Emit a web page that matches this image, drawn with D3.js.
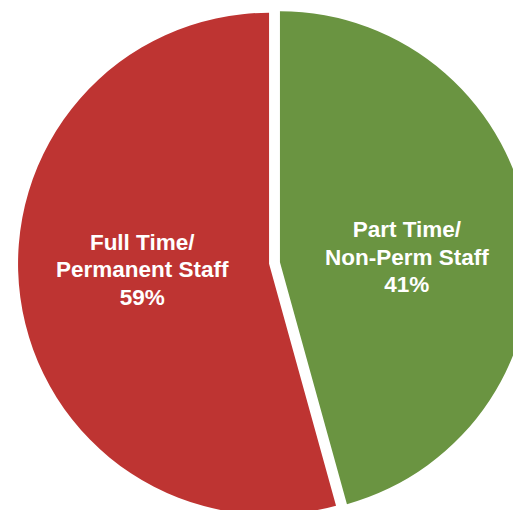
<!DOCTYPE html>
<html>
<head>
<meta charset="utf-8">
<script src="https://cdn.jsdelivr.net/npm/d3@7"></script>
<style>
  body { margin: 0; background: #fff; }
  svg { display: block; }
</style>
</head>
<body>
<div id="chart"></div>
<script>
// slices, clockwise from 12 o'clock
const categories = ["Part Time/Non-Perm Staff", "Full Time/Permanent Staff"]
// share of the circle each slice takes in the picture
const sliceShares = [45.7, 54.3]
// printed labels
const labelLines = [["Part Time/", "Non-Perm Staff"], ["Full Time/", "Permanent Staff"]]
const percentLabels = ["41%", "59%"]
const colors = ["#6a9441", "#be3432"]

const width = 513, height = 510
const cx = 274.5, cy = 263
const radius = 251
const explode = 5.5

const svg = d3.select("#chart").append("svg")
    .attr("width", width)
    .attr("height", height)

const pie = d3.pie().sort(null).value(d => d)
const arcs = pie(sliceShares)

const arc = d3.arc().innerRadius(0).outerRadius(radius)

// pull each slice out a little along its middle angle
function offset(d, r) {
    const a = (d.startAngle + d.endAngle) / 2
    return [r * Math.sin(a), -r * Math.cos(a)]
}

const g = svg.append("g")
    .attr("transform", `translate(${cx},${cy})`)

g.selectAll("path.slice")
    .data(arcs)
    .join("path")
    .attr("class", "slice")
    .attr("d", arc)
    .attr("fill", (d, i) => colors[i])
    .attr("transform", d => {
        const [dx, dy] = offset(d, explode)
        return `translate(${dx},${dy})`
    })

// labels
const labelRadius = 127
const labels = g.selectAll("text.label")
    .data(arcs)
    .join("text")
    .attr("class", "label")
    .attr("text-anchor", "middle")
    .attr("fill", "#fff")
    .style("font-family", "'Liberation Sans', Arial, Helvetica, sans-serif")
    .style("font-weight", "bold")
    .style("font-size", "22.5px")
    .attr("transform", d => {
        const a = (d.startAngle + d.endAngle) / 2 + 0.09
        const [ex, ey] = offset(d, explode)
        const x = ex + labelRadius * Math.sin(a)
        const y = ey - labelRadius * Math.cos(a)
        return `translate(${x},${y})`
    })

labels.each(function (d, i) {
    const lines = labelLines[i].concat([percentLabels[i]])
    const lh = 27.5
    d3.select(this).selectAll("tspan")
        .data(lines)
        .join("tspan")
        .attr("x", 0)
        .attr("y", (t, j) => (j - 1) * lh + 8)
        .text(t => t)
})
</script>
</body>
</html>
